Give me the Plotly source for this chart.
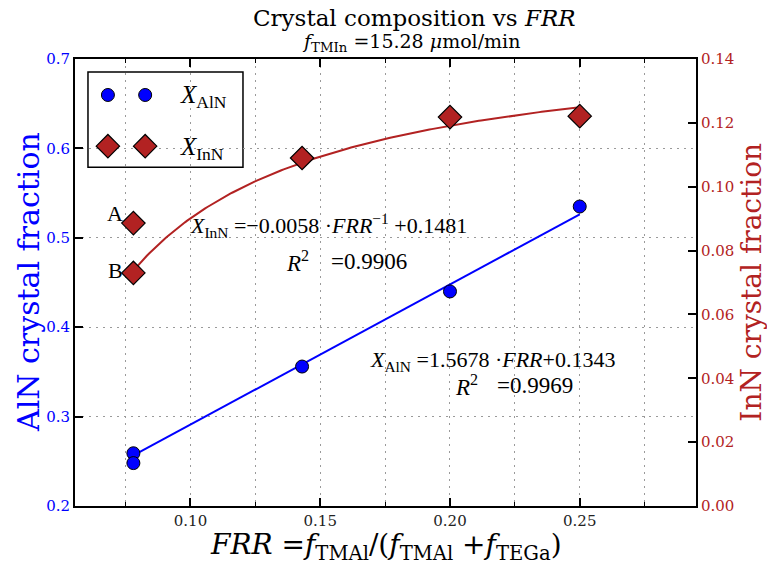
import numpy as np
import plotly.graph_objects as go

# Measured compositions vs flow-rate ratio
frr = [0.078, 0.078, 0.143, 0.200, 0.250]
x_aln = [0.259, 0.248, 0.356, 0.440, 0.535]
x_inn = [0.0886, 0.0730, 0.109, 0.1218, 0.1221]

# Fit coefficients
aln_slope, aln_icpt = 1.5678, 0.1343
inn_coef, inn_icpt = -0.0058, 0.1481
aln_r2, inn_r2 = 0.9969, 0.9906

BLUE = "#0000ff"
RED = "#b22222"
SERIF = "DejaVu Serif"
MATH = "Liberation Serif"

xf = np.linspace(min(frr), max(frr), 200)

fig = go.Figure()

# fitted curves
fig.add_trace(go.Scatter(x=xf, y=aln_slope * xf + aln_icpt, mode="lines",
                         line=dict(color=BLUE, width=2), yaxis="y", showlegend=False))
fig.add_trace(go.Scatter(x=xf, y=inn_coef / xf + inn_icpt, mode="lines",
                         line=dict(color=RED, width=2), yaxis="y2", showlegend=False))

# data points
fig.add_trace(go.Scatter(x=frr, y=x_aln, mode="markers", yaxis="y",
                         marker=dict(symbol="circle", size=13, color=BLUE,
                                     line=dict(color="black", width=1)),
                         showlegend=False))
fig.add_trace(go.Scatter(x=frr, y=x_inn, mode="markers", yaxis="y2",
                         marker=dict(symbol="diamond", size=18, color=RED,
                                     line=dict(color="black", width=1.2)),
                         showlegend=False))

# hand-drawn legend on a unit overlay axis (two markers per entry)
fig.add_trace(go.Scatter(x=[0.053, 0.113], y=[0.9195, 0.9195], mode="markers",
                         xaxis="x3", yaxis="y3", showlegend=False, hoverinfo="skip",
                         marker=dict(symbol="circle", size=13, color=BLUE,
                                     line=dict(color="black", width=1))))
fig.add_trace(go.Scatter(x=[0.053, 0.113], y=[0.805, 0.805], mode="markers",
                         xaxis="x3", yaxis="y3", showlegend=False, hoverinfo="skip",
                         marker=dict(symbol="diamond", size=18, color=RED,
                                     line=dict(color="black", width=1.2))))

grid = dict(gridcolor="#9a9a9a", griddash="2px,5px", gridwidth=1)

fig.update_layout(
    width=767, height=565,
    margin=dict(l=75, r=71, t=59, b=59),
    paper_bgcolor="white", plot_bgcolor="white",
    showlegend=False,
    xaxis=dict(range=[0.0555, 0.2948], tickmode="linear", tick0=0.10, dtick=0.05,
               tickformat=".2f", ticks="inside", ticklen=8, tickwidth=1.5,
               tickcolor="black", showline=True, linecolor="black", linewidth=2,
               mirror="ticks", showgrid=True, zeroline=False,
               tickfont=dict(family=SERIF, size=15, color="#222"),
               minor=dict(tickmode="linear", tick0=0.075, dtick=0.025, ticks="inside",
                          ticklen=4, tickwidth=1, tickcolor="black", showgrid=True,
                          **grid),
               **grid),
    yaxis=dict(range=[0.2, 0.7], tickmode="linear", tick0=0.2, dtick=0.1,
               tickformat=".1f", ticks="inside", ticklen=8, tickwidth=1.5,
               tickcolor="black", showline=True, linecolor="black", linewidth=2,
               showgrid=True, zeroline=False,
               tickfont=dict(family=SERIF, size=15, color=BLUE), **grid),
    yaxis2=dict(range=[0, 0.14], overlaying="y", side="right", tickmode="linear",
                tick0=0, dtick=0.02, tickformat=".2f", ticks="inside", ticklen=8,
                tickwidth=1.5, tickcolor="black", showline=True, linecolor="black",
                linewidth=2, showgrid=False, zeroline=False,
                tickfont=dict(family=SERIF, size=15, color=RED)),
    xaxis3=dict(overlaying="x", range=[0, 1], visible=False),
    yaxis3=dict(overlaying="y", range=[0, 1], visible=False),
)

# legend frame
fig.add_shape(type="rect", xref="paper", yref="paper", x0=0.0209, x1=0.2705,
              y0=0.758, y1=0.971, line=dict(color="black", width=1.5),
              fillcolor="white", layer="between")

ann = []
def text(s, x, y, size, color="black", family=MATH, xanchor="center", yanchor="middle",
         textangle=0, xref="paper", yref="paper", xshift=0, yshift=0):
    ann.append(dict(text=s, x=x, y=y, xref=xref, yref=yref, showarrow=False,
                    xanchor=xanchor, yanchor=yanchor, textangle=textangle,
                    xshift=xshift, yshift=yshift,
                    font=dict(family=family, size=size, color=color)))

# legend labels
text("<i>X</i><sub>AlN</sub>", 0.166, 0.915, 25, xanchor="left")
text("<i>X</i><sub>InN</sub>", 0.166, 0.800, 25, xanchor="left")

# titles
text("Crystal composition vs <i>FRR</i>", 0.5459, 1.0917, 23, family=SERIF)
text("<i>f</i><sub>TMIn</sub> =15.28 <i>μ</i>mol/min", 0.541, 1.0358, 19, family=SERIF)
text("<i>FRR</i> =<i>f</i><sub>TMAl</sub>/(<i>f</i><sub>TMAl</sub> +<i>f</i><sub>TEGa</sub>)",
     0.5008, -0.0895, 28, family=SERIF)
text("AlN crystal fraction", -0.0757, 0.5011, 30, color=BLUE, family=SERIF, textangle=-90)
text("InN crystal fraction", 1.0880, 0.5011, 28, color=RED, family=SERIF, textangle=-90)

# point labels
text("A", frr[0], x_inn[0], 22, xref="x", yref="y2", xanchor="right", xshift=-8, yshift=10)
text("B", frr[1], x_inn[1], 22, xref="x", yref="y2", xanchor="right", xshift=-8, yshift=2)

# fit equations (InN)
text(f"<i>X</i><sub>InN</sub> =−{abs(inn_coef):.4f} ·<i>FRR</i><sup>−1</sup> +{inn_icpt:.4f}",
     0.1820, 0.6264, 22, xanchor="left")
text("<i>R</i><sup>2</sup>", 0.3366, 0.548, 23, xanchor="left")
text(f"={inn_r2:.4f}", 0.4090, 0.548, 23, xanchor="left")
# fit equations (AlN)
text(f"<i>X</i><sub>AlN</sub> ={aln_slope:.4f} ·<i>FRR</i>+{aln_icpt:.4f}",
     0.4718, 0.3244, 22, xanchor="left")
text("<i>R</i><sup>2</sup>", 0.6090, 0.2685, 23, xanchor="left")
text(f"={aln_r2:.4f}", 0.6770, 0.2685, 23, xanchor="left")

fig.update_layout(annotations=ann)

fig.write_html("out.html")
